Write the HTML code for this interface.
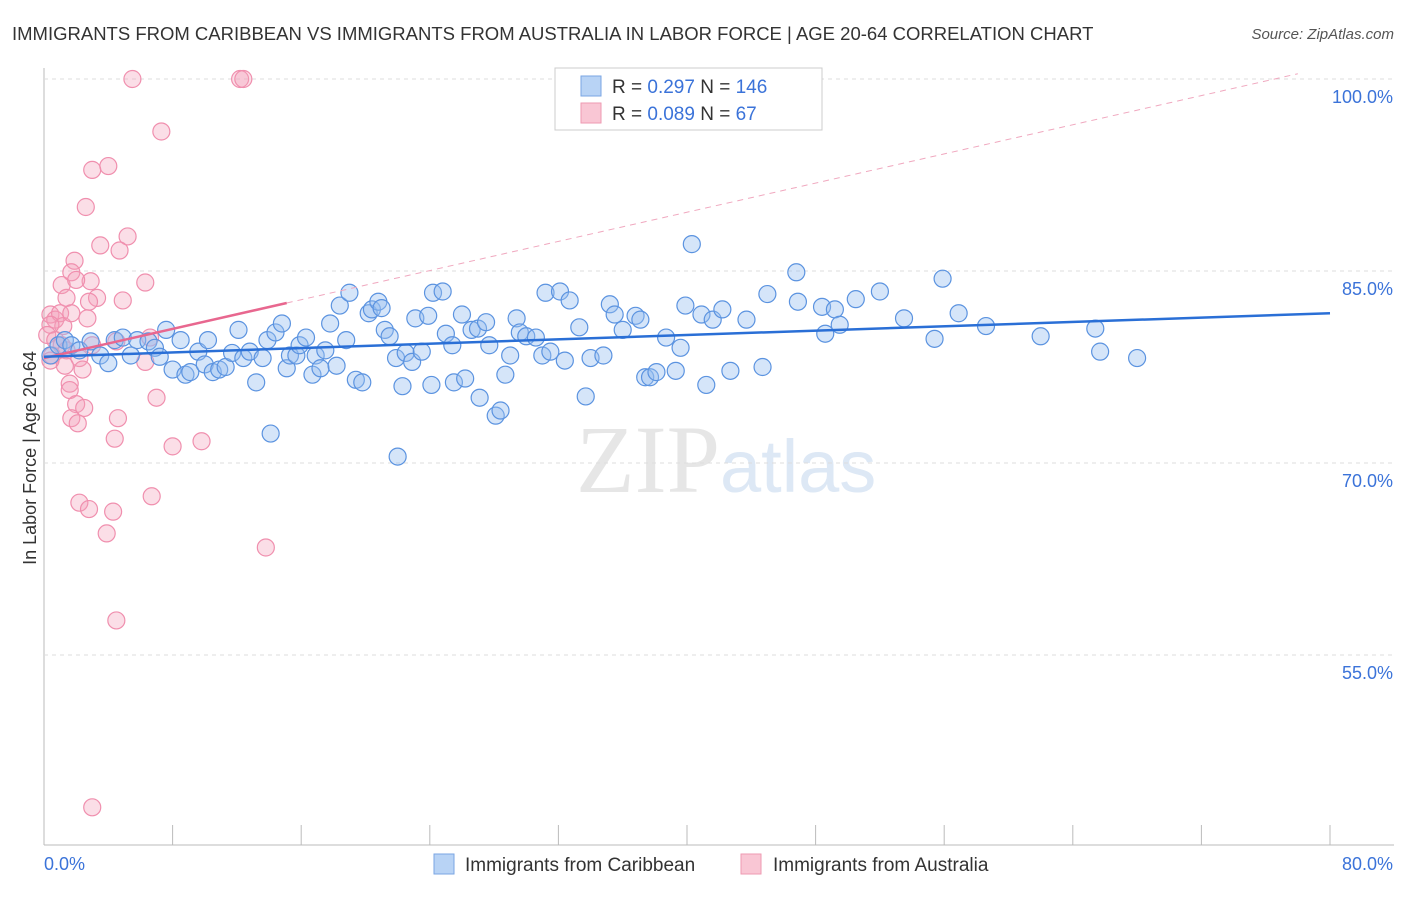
<!DOCTYPE html>
<html><head><meta charset="utf-8"><style>
body{margin:0;background:#fff;font-family:"Liberation Sans",sans-serif;}
</style></head><body>
<svg id="c" width="1406" height="892" xmlns="http://www.w3.org/2000/svg" style="font-family:'Liberation Sans',sans-serif">
<text x="12" y="40" font-size="18.5" fill="#333">IMMIGRANTS FROM CARIBBEAN VS IMMIGRANTS FROM AUSTRALIA IN LABOR FORCE | AGE 20-64 CORRELATION CHART</text>
<text x="1394" y="39" font-size="15" fill="#555" font-style="italic" text-anchor="end">Source: ZipAtlas.com</text>
<text x="720" y="492" font-size="96" fill="#e6e6e6" text-anchor="end" font-family="Liberation Serif,serif">ZIP</text>
<text x="720" y="492" font-size="74" fill="#dde8f5">atlas</text>
<g id="grid"></g><g id="pts"></g><g id="lines"></g>
<text x="36" y="458" font-size="18" fill="#333" text-anchor="middle" transform="rotate(-90 36 458)">In Labor Force | Age 20-64</text>
<g>
<rect x="555" y="68" width="267" height="62" fill="#fff" stroke="#ccc"/>
<rect x="581" y="76" width="20" height="20" fill="#b8d3f5" stroke="#7aa6e3"/>
<rect x="581" y="103" width="20" height="20" fill="#f9c6d4" stroke="#ee9ab2"/>
<text x="612" y="93" font-size="19" fill="#333">R = <tspan fill="#3b73d9">0.297</tspan>   N = <tspan fill="#3b73d9">146</tspan></text>
<text x="612" y="120" font-size="19" fill="#333">R = <tspan fill="#3b73d9">0.089</tspan>   N =   <tspan fill="#3b73d9">67</tspan></text>
</g>
<g>
<rect x="434" y="854" width="20" height="20" fill="#b8d3f5" stroke="#7aa6e3"/>
<text x="465" y="871" font-size="19" fill="#333">Immigrants from Caribbean</text>
<rect x="741" y="854" width="20" height="20" fill="#f9c6d4" stroke="#ee9ab2"/>
<text x="773" y="871" font-size="19" fill="#333">Immigrants from Australia</text>
</g>
</svg>
<script>
const blueX=[0.4,0.9,1.3,1.7,2.2,2.9,3.5,4.0,4.4,4.9,5.4,5.8,6.5,6.9,7.2,7.6,8.0,8.5,8.8,9.1,9.6,10.0,10.2,10.5,10.9,11.3,11.7,12.1,12.4,12.8,13.2,13.6,13.9,14.1,14.4,14.8,15.1,15.3,15.7,15.9,16.3,16.7,16.9,17.2,17.5,17.8,18.2,18.4,18.8,19.0,19.4,19.8,20.2,20.4,20.8,21.0,21.2,21.5,21.9,22.0,22.3,22.5,22.9,23.1,23.5,23.9,24.1,24.2,24.8,25.0,25.4,25.5,26.0,26.2,26.6,27.0,27.1,27.5,27.7,28.1,28.4,28.7,29.0,29.4,29.6,30.0,30.6,31.0,31.2,31.5,32.1,32.4,32.7,33.3,33.7,34.0,34.8,35.2,35.5,36.0,36.8,37.1,37.4,37.7,38.1,38.7,39.3,39.6,39.9,40.3,40.9,41.2,41.6,42.2,42.7,43.7,44.7,45.0,46.8,46.9,48.4,48.6,49.2,49.5,50.5,52.0,53.5,55.4,55.9,56.9,58.6,62.0,65.4,65.7,68.0];
const blueY=[78.4,79.2,79.6,79.2,78.8,79.5,78.4,77.8,79.6,79.8,78.4,79.6,79.5,79.0,78.3,80.4,77.3,79.6,76.9,77.1,78.7,77.7,79.6,77.1,77.3,77.5,78.6,80.4,78.2,78.7,76.3,78.2,79.6,72.3,80.2,80.9,77.4,78.4,78.4,79.2,79.8,76.9,78.4,77.4,78.8,80.9,77.6,82.3,79.6,83.3,76.5,76.3,81.7,82.0,82.6,82.1,80.4,79.9,78.2,70.5,76.0,78.6,77.9,81.3,78.7,81.5,76.1,83.3,83.4,80.1,79.2,76.3,81.6,76.6,80.4,80.5,75.1,81.0,79.2,73.7,74.1,76.9,78.4,81.3,80.2,79.9,79.8,78.4,83.3,78.7,83.4,78.0,82.7,80.6,75.2,78.2,78.4,82.4,81.6,80.4,81.5,81.2,76.7,76.7,77.1,79.8,77.2,79.0,82.3,87.1,81.6,76.1,81.2,82.0,77.2,81.2,77.5,83.2,84.9,82.6,82.2,80.1,82.0,80.8,82.8,83.4,81.3,79.7,84.4,81.7,80.7,79.9,80.5,78.7,78.2];
const pinkX=[5.5,12.2,12.4,7.3,4.0,3.0,2.6,5.2,3.5,4.7,1.9,1.7,6.3,2.9,1.1,2.0,4.9,3.3,1.4,2.8,0.4,0.7,1.0,1.2,1.7,2.7,0.4,0.2,0.7,1.1,0.5,1.4,2.2,3.0,4.5,6.6,6.3,1.3,2.4,1.6,0.4,1.6,2.0,2.5,4.6,1.7,2.1,7.0,4.4,8.0,9.8,6.7,2.2,2.8,4.3,3.9,13.8,4.5,3.0];
const pinkY=[100,100,100,95.9,93.2,92.9,90.0,87.7,87.0,86.6,85.8,84.9,84.1,84.2,83.9,84.3,82.7,82.9,82.9,82.6,81.6,81.2,81.7,80.7,81.7,81.3,80.8,80.0,79.6,79.2,78.4,78.8,78.2,79.2,79.5,79.8,77.9,77.6,77.3,76.2,78.0,75.7,74.6,74.3,73.5,73.5,73.1,75.1,71.9,71.3,71.7,67.4,66.9,66.4,66.2,64.5,63.4,57.7,43.1];
const yTicks=[100,85,70,55];
const xTickLabels=["0.0%","80.0%"];
const blueTrend=[0,78.3,80,81.7];
const pinkTrend=[0,78.2,15.1,82.5];
const NS="http://www.w3.org/2000/svg";
const sx=v=>44+v/80*1286;
const sy=v=>79+(100-v)/15*192;
function mk(t,a,p){const e=document.createElementNS(NS,t);for(const k in a)e.setAttribute(k,a[k]);p.appendChild(e);return e;}
const g=document.getElementById('grid');
let ax=mk('line',{x1:44,y1:68,x2:44,y2:845,stroke:'#bbb'},g);

let bx=mk('line',{x1:44,y1:845,x2:1394,y2:845,stroke:'#bbb'},g);

yTicks.forEach(v=>{const y=sy(v);
 const l=mk('line',{x1:44,y1:y,x2:1394,y2:y,stroke:'#ddd','stroke-dasharray':'4,4'},g);
 
 const t=mk('text',{x:1393,y:y+24,'font-size':18,fill:'#3b73d9','text-anchor':'end'},g);t.textContent=v.toFixed(1)+'%';
 });
for(let i=0;i<=10;i++){const x=sx(i*8);const l=mk('line',{x1:x,y1:825,x2:x,y2:845,stroke:'#bbb'},g);
 }
[[44,'start',0],[1393,'end',1]].forEach(([x,a,i])=>{const t=mk('text',{x:x,y:870,'font-size':18,fill:'#3b73d9','text-anchor':a},g);t.textContent=xTickLabels[i];
 });
const p=document.getElementById('pts');
pinkX.forEach((x,i)=>{const c=mk('circle',{cx:sx(x),cy:sy(pinkY[i]),r:8.5,fill:'rgba(244,160,186,0.35)',stroke:'#f08fae','stroke-width':1.2},p);
 });
blueX.forEach((x,i)=>{const c=mk('circle',{cx:sx(x),cy:sy(blueY[i]),r:8.5,fill:'rgba(150,190,240,0.4)',stroke:'#5b93e0','stroke-width':1.2},p);
 });
const L=document.getElementById('lines');
const slope=(pinkTrend[3]-pinkTrend[1])/(pinkTrend[2]-pinkTrend[0]);
const endX=78;
let d=mk('line',{x1:sx(pinkTrend[2]),y1:sy(pinkTrend[3]),x2:sx(endX),y2:sy(pinkTrend[1]+slope*endX),stroke:'#f0a8bf','stroke-width':1,'stroke-dasharray':'6,5'},L);

let pl=mk('line',{x1:sx(pinkTrend[0]),y1:sy(pinkTrend[1]),x2:sx(pinkTrend[2]),y2:sy(pinkTrend[3]),stroke:'#e8678f','stroke-width':2.5},L);

let bl=mk('line',{x1:sx(blueTrend[0]),y1:sy(blueTrend[1]),x2:sx(blueTrend[2]),y2:sy(blueTrend[3]),stroke:'#2a6fd6','stroke-width':2.5},L);

</script>
</body></html>
